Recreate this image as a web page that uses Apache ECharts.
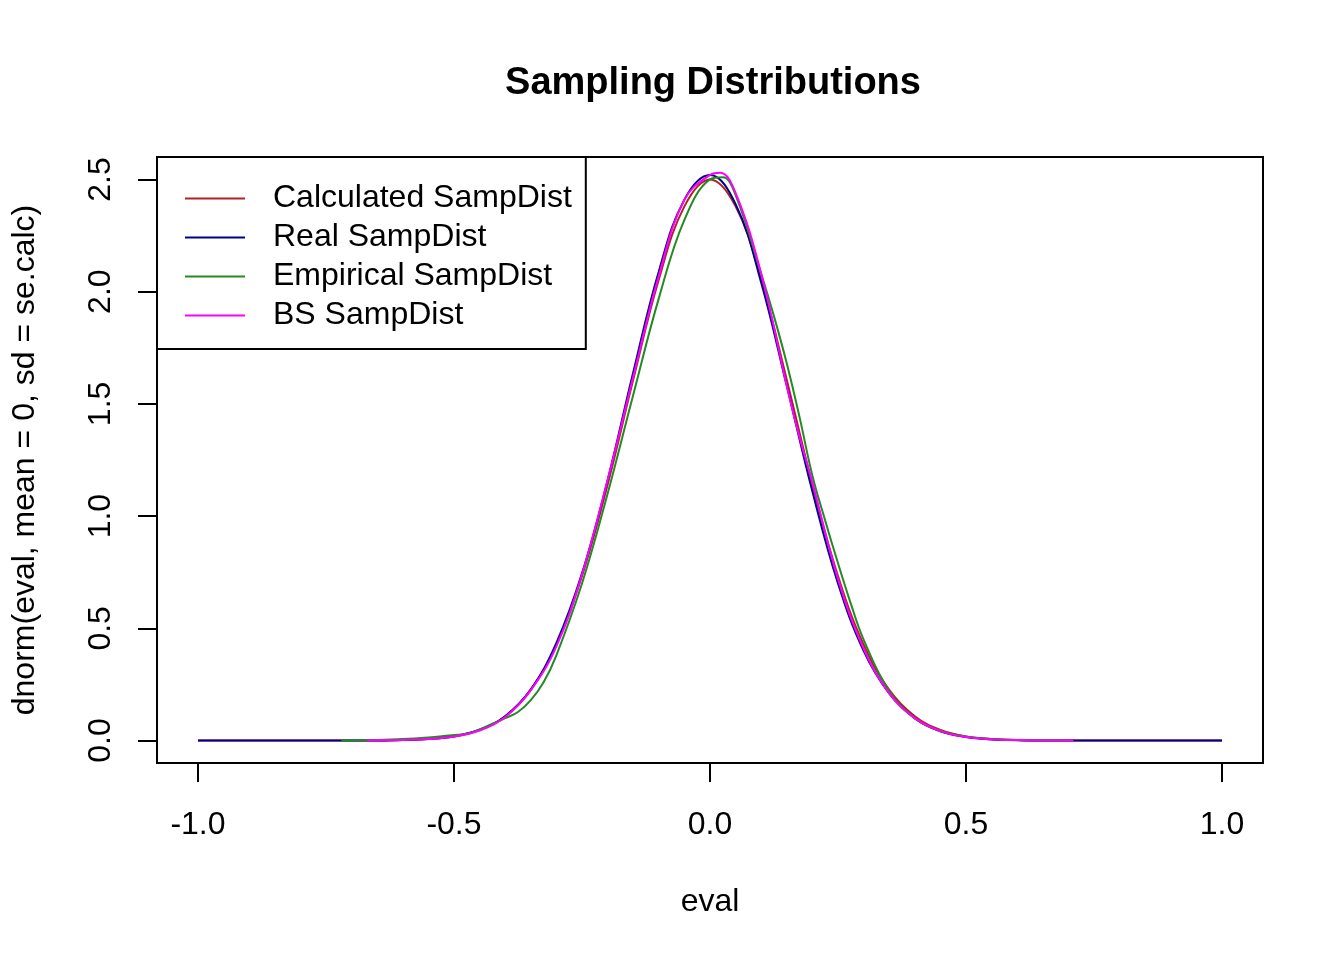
<!DOCTYPE html>
<html>
<head>
<meta charset="utf-8">
<title>Sampling Distributions</title>
<script src="https://cdn.jsdelivr.net/npm/echarts@6.0.0/dist/echarts.min.js"></script>
<style>
  html, body { margin: 0; padding: 0; background: #fff; }
  #chart { width: 1344px; height: 960px; }
</style>
</head>
<body>
<div id="chart"></div>
<script>
// values
const seriesNames = ['Calculated SampDist', 'Real SampDist', 'Empirical SampDist', 'BS SampDist'];
const seriesColors = ['#b22222', '#00008b', '#228b22', '#ff00ff'];

const xTicks = [-1, -0.5, 0, 0.5, 1];
const yTicks = [0, 0.5, 1, 1.5, 2, 2.5];

const calcX = [-1, -0.9, -0.8, -0.7, -0.65, -0.6, -0.55, -0.5, -0.45, -0.4, -0.35, -0.3, -0.25, -0.2, -0.15, -0.1, -0.05, 0,
  0.05, 0.1, 0.15, 0.2, 0.25, 0.3, 0.35, 0.4, 0.45, 0.5, 0.55, 0.6, 0.65, 0.7, 0.8, 0.9, 1];
const calcY = [0, 0, 0, 0.0002, 0.0006, 0.002, 0.007, 0.018, 0.047, 0.108, 0.226, 0.427, 0.733, 1.14, 1.607, 2.054, 2.38, 2.5,
  2.38, 2.054, 1.607, 1.14, 0.733, 0.427, 0.226, 0.108, 0.047, 0.018, 0.007, 0.002, 0.0006, 0.0002, 0, 0, 0];

const realX = calcX;
const realY = [0, 0, 0, 0.0002, 0.0006, 0.002, 0.007, 0.019, 0.048, 0.108, 0.228, 0.435, 0.745, 1.16, 1.64, 2.09, 2.41, 2.52,
  2.39, 2.04, 1.58, 1.11, 0.7, 0.4, 0.21, 0.099, 0.041, 0.016, 0.005, 0.0015, 0.0004, 0.0001, 0, 0, 0];

const empX = [-0.72, -0.7, -0.65, -0.6, -0.55, -0.52, -0.5, -0.475, -0.45, -0.425, -0.4, -0.375, -0.35, -0.325, -0.3, -0.25,
  -0.2, -0.15, -0.1, -0.05, 0, 0.025, 0.05, 0.1, 0.125, 0.15, 0.175, 0.2, 0.225, 0.25, 0.275, 0.3, 0.35, 0.4, 0.45, 0.5,
  0.55, 0.6, 0.65, 0.7];
const empY = [0, 0.001, 0.003, 0.007, 0.014, 0.02, 0.025, 0.03, 0.05, 0.075, 0.1, 0.127, 0.18, 0.26, 0.38, 0.7,
  1.1, 1.54, 1.97, 2.32, 2.5, 2.51, 2.43, 2.08, 1.89, 1.68, 1.44, 1.18, 0.98, 0.79, 0.61, 0.45, 0.22, 0.1, 0.043, 0.018,
  0.007, 0.003, 0.001, 0];

const bsX = [-0.67, -0.65, -0.6, -0.55, -0.5, -0.45, -0.4, -0.35, -0.3, -0.25, -0.2, -0.15, -0.1, -0.05, 0, 0.02,
  0.05, 0.1, 0.15, 0.175, 0.2, 0.25, 0.3, 0.35, 0.4, 0.45, 0.5, 0.55, 0.6, 0.65, 0.71];
const bsY = [0, 0.001, 0.003, 0.007, 0.018, 0.045, 0.105, 0.225, 0.42, 0.74, 1.16, 1.62, 2.07, 2.41, 2.52, 2.53,
  2.44, 2.08, 1.58, 1.35, 1.15, 0.72, 0.41, 0.21, 0.1, 0.042, 0.016, 0.006, 0.002, 0.0005, 0];

const font = '"Liberation Sans", Arial, Helvetica, sans-serif';

function pairs(xs, ys) {
  return xs.map((x, i) => [x, ys[i]]);
}

const curves = [pairs(calcX, calcY), pairs(realX, realY), pairs(empX, empY), pairs(bsX, bsY)];

const chart = echarts.init(document.getElementById('chart'), null, { renderer: 'canvas' });

const option = {
  animation: false,
  backgroundColor: '#fff',
  textStyle: { fontFamily: font, color: '#000' },
  title: {
    text: 'Sampling Distributions',
    left: 708,
    top: 60,
    textAlign: 'center',
    textStyle: { fontFamily: font, fontSize: 38, fontWeight: 'bold', color: '#000' }
  },
  legend: {
    data: seriesNames,
    orient: 'vertical',
    left: 157,
    top: 157,
    padding: [22, 14, 14, 28],
    itemGap: 0,
    itemWidth: 60,
    itemHeight: 2,
    icon: 'rect',
    selectedMode: false,
    borderColor: '#000',
    borderWidth: 2,
    backgroundColor: '#fff',
    textStyle: {
      fontFamily: font,
      fontSize: 32,
      lineHeight: 39,
      color: '#000',
      padding: [0, 0, 0, 23]
    }
  },
  grid: {
    left: 157,
    right: 81,
    top: 157,
    bottom: 197,
    show: true,
    borderColor: '#000',
    borderWidth: 2,
    containLabel: false
  },
  xAxis: {
    type: 'value',
    min: -1.08,
    max: 1.08,
    name: 'eval',
    nameLocation: 'middle',
    nameGap: 123,
    nameTextStyle: { fontFamily: font, fontSize: 32, color: '#000' },
    splitLine: { show: false },
    axisLine: { show: false, onZero: false },
    axisTick: {
      show: true,
      inside: false,
      length: 19,
      customValues: xTicks,
      lineStyle: { color: '#000', width: 2 }
    },
    axisLabel: {
      customValues: xTicks,
      margin: 46,
      fontFamily: font,
      fontSize: 32,
      color: '#000',
      formatter: v => v.toFixed(1)
    }
  },
  yAxis: {
    type: 'value',
    min: -0.1,
    max: 2.6,
    name: 'dnorm(eval, mean = 0, sd = se.calc)',
    nameLocation: 'middle',
    nameGap: 116,
    nameRotate: 90,
    nameTextStyle: { fontFamily: font, fontSize: 32, color: '#000' },
    splitLine: { show: false },
    axisLine: { show: false, onZero: false },
    axisTick: {
      show: true,
      inside: false,
      length: 19,
      customValues: yTicks,
      lineStyle: { color: '#000', width: 2 }
    },
    axisLabel: {
      customValues: yTicks,
      rotate: 90,
      margin: 40,
      fontFamily: font,
      fontSize: 32,
      color: '#000',
      formatter: v => v.toFixed(1)
    }
  },
  series: seriesNames.map((name, i) => ({
    name: name,
    type: 'line',
    data: curves[i],
    smooth: 0.4,
    showSymbol: false,
    silent: true,
    z: 2 + i,
    itemStyle: { color: seriesColors[i] },
    lineStyle: { color: seriesColors[i], width: 2 }
  }))
};

chart.setOption(option);
</script>
</body>
</html>
